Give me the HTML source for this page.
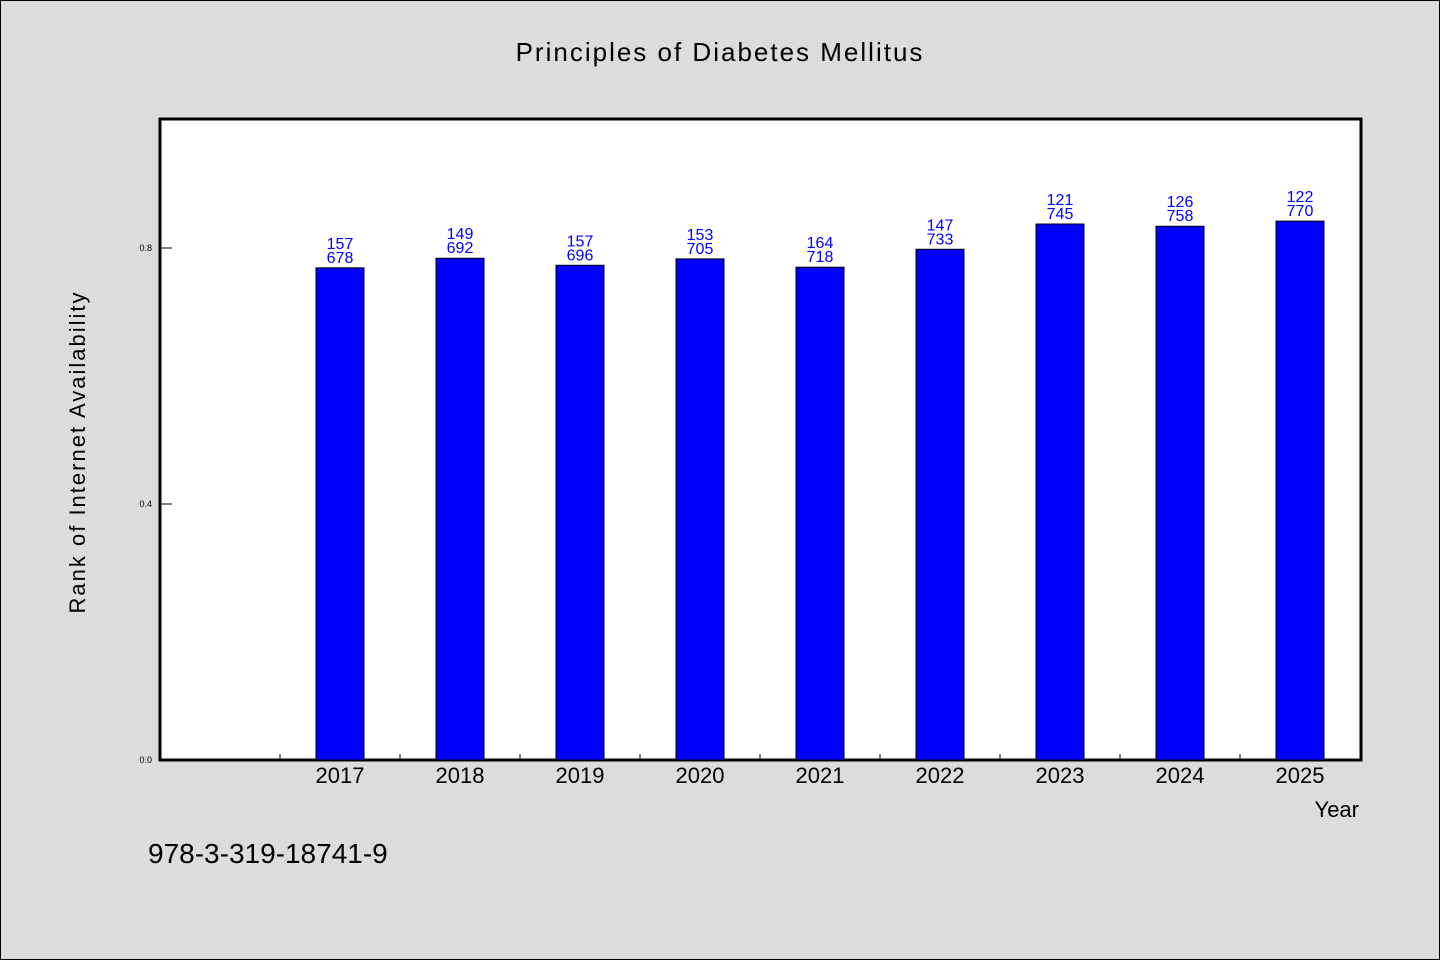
<!DOCTYPE html>
<html><head><meta charset="utf-8"><style>
body{margin:0;background:#dcdcdc;}
svg{display:block;font-family:"WenQuanYi Zen Hei","Liberation Sans",sans-serif;}
</style></head><body>
<svg id="chart" width="1440" height="960" xmlns="http://www.w3.org/2000/svg">
<rect x="0.5" y="0.5" width="1439" height="959" fill="#dcdcdc" stroke="#000"/>
<text x="720" y="61" text-anchor="middle" font-size="26" letter-spacing="2">Principles of Diabetes Mellitus</text>
<rect x="160" y="119" width="1201" height="641" fill="#fff" stroke="#000" stroke-width="3"/>
<g id="marks"></g>
<text transform="translate(85,452) rotate(-90)" text-anchor="middle" font-size="22" letter-spacing="2">Rank of Internet Availability</text>
<text x="1359" y="817" text-anchor="end" font-size="22">Year</text>
<text x="148" y="863" font-size="28">978-3-319-18741-9</text>
</svg>
<script>
const categories=["2017","2018","2019","2020","2021","2022","2023","2024","2025"];
const values=[0.769,0.784,0.773,0.783,0.770,0.798,0.8375,0.834,0.842];
const labelTop=["157","149","157","153","164","147","121","126","122"];
const labelBottom=["678","692","696","705","718","733","745","758","770"];
const yTicks=[0,0.4,0.8];
const yTickLabels=["0.0","0.4","0.8"];
const X0=160,X1=1360,Y0=760,Y1=120,nBands=categories.length+1;
const bw=(X1-X0)/nBands;
const xc=i=>X0+bw*(i+1)+bw/2;
const y=v=>Y0-(Y0-Y1)*v;
const g=document.getElementById('marks');
const NS="http://www.w3.org/2000/svg";
function mk(t,a){const e=document.createElementNS(NS,t);for(const k in a)e.setAttribute(k,a[k]);g.appendChild(e);return e;}
yTicks.forEach((v,i)=>{
 const l=mk('line',{x1:X0,x2:X0+12,y1:y(v),y2:y(v),stroke:'#000'});
 
 
 const t=mk('text',{x:X0-8,y:y(v)+3,'text-anchor':'end','font-size':9});
 t.textContent=yTickLabels[i];
 
 
});
for(let i=1;i<nBands;i++){
 const x=X0+bw*i;
 const l=mk('line',{x1:x,x2:x,y1:Y0,y2:Y0-6,stroke:'#000'});
 
 
}
categories.forEach((c,i)=>{
 const cx=xc(i);
 const r=mk('rect',{x:cx-24,y:y(values[i]),width:48,height:Y0-y(values[i]),fill:'#0000ff',stroke:'#000'});
 
 
 const t1=mk('text',{x:cx,y:y(values[i])-19,'text-anchor':'middle','font-size':16,fill:'#0000ff'});
 t1.textContent=labelTop[i];
 
 
 const t2=mk('text',{x:cx,y:y(values[i])-5,'text-anchor':'middle','font-size':16,fill:'#0000ff'});
 t2.textContent=labelBottom[i];
 
 
 const xl=mk('text',{x:cx,y:783,'text-anchor':'middle','font-size':22});
 xl.textContent=c;
 
 
});
</script>
</body></html>
